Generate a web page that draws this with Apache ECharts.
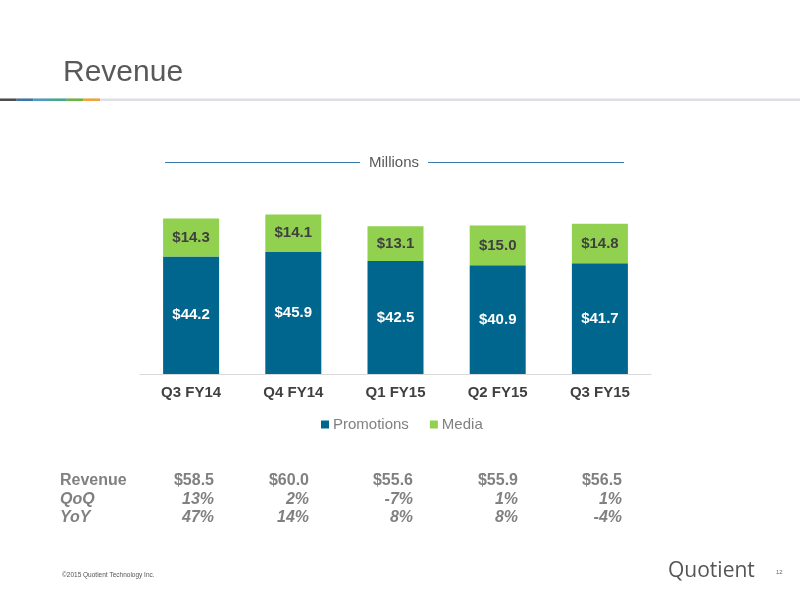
<!DOCTYPE html>
<html>
<head>
<meta charset="utf-8">
<script src="https://cdn.jsdelivr.net/npm/echarts@6/dist/echarts.min.js"></script>
<style>
html,body{margin:0;padding:0;background:#fff;}
#chart{width:800px;height:600px;}
</style>
</head>
<body>
<div id="chart"></div>
<script>
var categories = ['Q3 FY14', 'Q4 FY14', 'Q1 FY15', 'Q2 FY15', 'Q3 FY15'];
var promotions = [44.2, 45.9, 42.5, 40.9, 41.7];
var media = [14.3, 14.1, 13.1, 15.0, 14.8];
var revenueRow = ['$58.5', '$60.0', '$55.6', '$55.9', '$56.5'];
var qoqRow = ['13%', '2%', '-7%', '1%', '1%'];
var yoyRow = ['47%', '14%', '8%', '8%', '-4%'];
var rowLabels = ['Revenue', 'QoQ', 'YoY'];

var FONT = '"Liberation Sans", Arial, sans-serif';
var chart = echarts.init(document.getElementById('chart'));

var graphics = [];
// title
graphics.push({type:'text', x:63, y:73, style:{text:'Revenue', fontSize:30, fontFamily:FONT, fill:'#595959', align:'left', verticalAlign:'middle'}});
// underline
graphics.push({type:'rect', shape:{x:0, y:98.5, width:800, height:2.5}, style:{fill:'#dedee4'}});
var segColors = ['#4d4d4d', '#3f74a8', '#4f9ac4', '#3fa88e', '#6cb33f', '#f0a436'];
segColors.forEach(function(c, i){
  graphics.push({type:'rect', shape:{x:i*16.67, y:98.5, width:16.67, height:2.5}, style:{fill:c}});
});
// Millions
graphics.push({type:'line', shape:{x1:165, y1:162.5, x2:360, y2:162.5}, style:{stroke:'#3a7bab', lineWidth:1}});
graphics.push({type:'line', shape:{x1:428, y1:162.5, x2:624, y2:162.5}, style:{stroke:'#3a7bab', lineWidth:1}});
graphics.push({type:'text', x:394, y:163, style:{text:'Millions', fontSize:15, fontFamily:FONT, fill:'#595959', align:'center', verticalAlign:'middle'}});
// table
var rowY = [481, 499.5, 518];
var colX = [214, 309, 413, 518, 622];
var rows = [revenueRow, qoqRow, yoyRow];
rows.forEach(function(row, r){
  var style = r === 0 ? 'normal' : 'italic';
  graphics.push({type:'text', x:60, y:rowY[r], style:{text:rowLabels[r], fontSize:16, fontWeight:'bold', fontStyle:style, fontFamily:FONT, fill:'#808080', align:'left', verticalAlign:'middle'}});
  row.forEach(function(v, i){
    graphics.push({type:'text', x:colX[i], y:rowY[r], style:{text:v, fontSize:16, fontWeight:'bold', fontStyle:style, fontFamily:FONT, fill:'#808080', align:'right', verticalAlign:'middle'}});
  });
});
// footer
graphics.push({type:'text', x:62, y:575, style:{text:'\u00a92015 Quotient Technology Inc.', fontSize:6.5, fontFamily:FONT, fill:'#555555', align:'left', verticalAlign:'middle'}});
graphics.push({type:'text', x:668, y:571, style:{text:'Quotient', fontSize:21, fontFamily:'"Open Sans", sans-serif', fill:'#555555', align:'left', verticalAlign:'middle'}});
graphics.push({type:'text', x:776, y:572, style:{text:'12', fontSize:6, fontFamily:FONT, fill:'#666666', align:'left', verticalAlign:'middle'}});

var labelFmt = function(p){ return '$' + Number(p.value).toFixed(1); };

chart.setOption({
  animation: false,
  textStyle: {fontFamily: FONT},
  grid: {left:140, right:149, top:188, bottom:226, containLabel:false},
  legend: {
    data: ['Promotions', 'Media'],
    left: 316, top: 412,
    icon: 'rect', itemWidth: 8, itemHeight: 8, itemGap: 21,
    textStyle: {color:'#808080', fontSize:15, fontFamily:FONT, padding:[0,0,0,-1]}
  },
  xAxis: {
    type: 'category',
    data: categories,
    axisLine: {lineStyle:{color:'#d9d9d9', width:1}},
    axisTick: {show:false},
    axisLabel: {color:'#404040', fontWeight:'bold', fontSize:15, margin:11, fontFamily:FONT}
  },
  yAxis: {type:'value', min:0, max:70, show:false, splitLine:{show:false}},
  series: [
    {name:'Promotions', type:'bar', stack:'total', data:promotions, barWidth:56,
     itemStyle:{color:'#00668E'},
     label:{show:true, position:'inside', formatter:labelFmt, color:'#ffffff', fontWeight:'bold', fontSize:15, fontFamily:FONT}},
    {name:'Media', type:'bar', stack:'total', data:media, barWidth:56,
     itemStyle:{color:'#92D050'},
     label:{show:true, position:'inside', formatter:labelFmt, color:'#404040', fontWeight:'bold', fontSize:15, fontFamily:FONT}}
  ],
  graphic: graphics
});
</script>
</body>
</html>
